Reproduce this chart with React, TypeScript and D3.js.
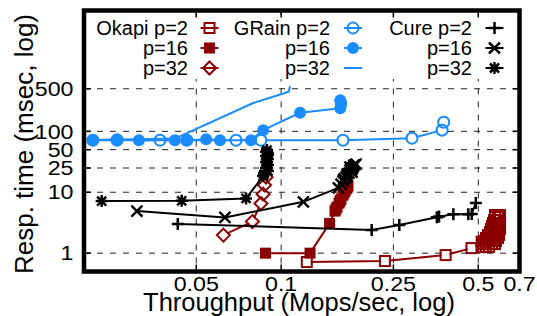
import React from 'react';
import * as d3 from 'd3';

type Pt = [number, number];

// ---- axis ticks ----
const xTickValues = [0.05, 0.1, 0.25, 0.5, 0.7];
const xTickLabels = ['0.05', '0.1', '0.25', '0.5', '0.7'];
const xGridValues = [0.05, 0.1, 0.25, 0.5];
const yTickValues = [1, 10, 25, 50, 100, 500];
const yTickLabels = ['1', '10', '25', '50', '100', '500'];

// ---- data: [throughput Mops/sec, response time msec] ----
const okapiP2: Pt[] = [
  [0.1233, 0.715], [0.2333, 0.742], [0.383, 0.93], [0.473, 1.21], [0.514, 1.54],
  [0.5196, 1.259], [0.5324, 1.259], [0.5457, 1.259],
  [0.5731, 1.411], [0.5592, 1.411], [0.5457, 1.411], [0.5324, 1.411], [0.5196, 1.411],
  [0.5238, 1.58], [0.5368, 1.58], [0.5502, 1.58], [0.5638, 1.58], [0.5779, 1.58],
  [0.5874, 1.769], [0.5731, 1.769], [0.5592, 1.769], [0.5457, 1.769], [0.5324, 1.769],
  [0.5412, 1.982], [0.5547, 1.982], [0.5684, 1.982], [0.5826, 1.982], [0.5922, 1.982],
  [0.5922, 2.221], [0.5779, 2.221], [0.5638, 2.221], [0.5502, 2.221],
  [0.5547, 2.487], [0.5684, 2.487], [0.5826, 2.487], [0.5971, 2.487],
  [0.5971, 2.786], [0.5874, 2.786], [0.5731, 2.786], [0.5592, 2.786],
  [0.5638, 3.12], [0.5779, 3.12], [0.5922, 3.12],
  [0.5971, 3.494], [0.5826, 3.494], [0.5684, 3.494],
  [0.5731, 3.914], [0.5874, 3.914], [0.5971, 3.914],
  [0.5971, 4.221], [0.5874, 4.221], [0.5731, 4.221],
];
const okapiP16: Pt[] = [
  [0.088, 1.0], [0.1266, 1.0], [0.1485, 3.08], [0.1552, 4.9], [0.1565, 5.3], [0.1578, 5.7],
  [0.1604, 6.63], [0.1617, 7.16], [0.163, 7.71], [0.1657, 8.97], [0.167, 9.7], [0.1684, 10.4],
  [0.1698, 11.3], [0.1712, 11.7], [0.1726, 12.6],
];
const okapiP32: Pt[] = [
  [0.0624, 1.98], [0.0791, 3.3], [0.0848, 6.55], [0.0863, 9.31], [0.0873, 13.1], [0.0884, 17.7],
];
const grainP2: Pt[] = [
  [0.0215, 71.5], [0.0262, 71.5], [0.0372, 71.5], [0.0463, 71.5], [0.0692, 71.5], [0.0848, 71.5],
  [0.1656, 71.5], [0.291, 77.1], [0.372, 104.6], [0.377, 141.5],
];
const grainP16: Pt[] = [
  [0.0215, 71.5], [0.0262, 74.2], [0.0313, 71.5], [0.042, 71.5], [0.0463, 71.5], [0.0542, 74.2],
  [0.0607, 71.5], [0.0782, 71.5], [0.0863, 104.6], [0.1167, 202], [0.162, 239], [0.163, 270],
  [0.163, 300], [0.162, 323],
];
const grainP32: Pt[] = [
  [0.0207, 71.5], [0.042, 76], [0.0796, 292], [0.1018, 417], [0.1065, 450], [0.1075, 550],
];
const cureP2: Pt[] = [
  [0.043, 3.02], [0.2094, 2.41], [0.2624, 2.91], [0.3565, 3.89], [0.363, 3.98], [0.408, 4.36],
  [0.461, 4.36], [0.474, 4.4], [0.49, 6.68],
];
const cureP16: Pt[] = [
  [0.0308, 4.9], [0.0632, 3.86], [0.1199, 6.96], [0.1595, 11.8], [0.163, 13.6], [0.1657, 15.3],
  [0.167, 16.5], [0.1698, 17.8], [0.1712, 19.9], [0.174, 20.6], [0.1754, 23.1], [0.1784, 24.0],
  [0.1798, 25.9], [0.1813, 27.9], [0.1843, 29.0], [0.1784, 21.4], [0.1712, 18.4], [0.1754, 25.9],
];
const cureP32: Pt[] = [
  [0.0231, 7.15], [0.0444, 7.23], [0.0751, 7.91], [0.0863, 18.4], [0.087, 19.9], [0.0898, 22.3],
  [0.0884, 24.9], [0.0898, 27.9], [0.0884, 31.3], [0.0898, 35.0], [0.0884, 39.3], [0.0898, 44.0],
  [0.0891, 49.3], [0.0884, 46], [0.0898, 41],
];

// ---- legend ----
const legendSystems = ['Okapi', 'GRain', 'Cure'];
const legendProcs = ['p=2', 'p=16', 'p=32'];

const RED = '#8b0000';
const BLUE = '#1a8cff';
const BLACK = '#000000';

type MarkerKind = 'sqOpen' | 'sqFill' | 'diaOpen' | 'circOpen' | 'circFill' | 'none' | 'plus' | 'cross' | 'star';

const series: { data: Pt[]; color: string; marker: MarkerKind; col: number; row: number }[] = [
  { data: okapiP2, color: RED, marker: 'sqOpen', col: 0, row: 0 },
  { data: okapiP16, color: RED, marker: 'sqFill', col: 0, row: 1 },
  { data: okapiP32, color: RED, marker: 'diaOpen', col: 0, row: 2 },
  { data: grainP2, color: BLUE, marker: 'circOpen', col: 1, row: 0 },
  { data: grainP16, color: BLUE, marker: 'circFill', col: 1, row: 1 },
  { data: grainP32, color: BLUE, marker: 'none', col: 1, row: 2 },
  { data: cureP2, color: BLACK, marker: 'plus', col: 2, row: 0 },
  { data: cureP16, color: BLACK, marker: 'cross', col: 2, row: 1 },
  { data: cureP32, color: BLACK, marker: 'star', col: 2, row: 2 },
];

const FONT = '"Liberation Sans", Arial, Helvetica, sans-serif';
const isOpen = (k: MarkerKind) => k === 'sqOpen' || k === 'diaOpen' || k === 'circOpen';

function Knockout({ kind, x, y }: { kind: MarkerKind; x: number; y: number }) {
  switch (kind) {
    case 'sqOpen':
      return <rect x={x - 4} y={y - 4} width={8} height={8} fill="#fff" />;
    case 'diaOpen':
      return <path d={`M${x},${y - 5}L${x + 5},${y}L${x},${y + 5}L${x - 5},${y}Z`} fill="#fff" />;
    case 'circOpen':
      return <circle cx={x} cy={y} r={4.5} fill="#fff" />;
    default:
      return null;
  }
}

function Marker({ kind, x, y, color }: { kind: MarkerKind; x: number; y: number; color: string }) {
  switch (kind) {
    case 'sqOpen':
      return <rect x={x - 5} y={y - 5} width={10} height={10} fill="none" stroke={color} strokeWidth={2} />;
    case 'sqFill':
      return <rect x={x - 5.5} y={y - 5.5} width={11} height={11} fill={color} />;
    case 'diaOpen':
      return <path d={`M${x},${y - 6.5}L${x + 6.5},${y}L${x},${y + 6.5}L${x - 6.5},${y}Z`} fill="none" stroke={color} strokeWidth={2} />;
    case 'circOpen':
      return <circle cx={x} cy={y} r={5.5} fill="none" stroke={color} strokeWidth={2} />;
    case 'circFill':
      return <circle cx={x} cy={y} r={6} fill={color} />;
    case 'plus':
      return <path d={`M${x - 6},${y}H${x + 6}M${x},${y - 6}V${y + 6}`} stroke={color} strokeWidth={2.5} fill="none" />;
    case 'cross':
      return <path d={`M${x - 5.5},${y - 5.5}L${x + 5.5},${y + 5.5}M${x - 5.5},${y + 5.5}L${x + 5.5},${y - 5.5}`} stroke={color} strokeWidth={2.5} fill="none" />;
    case 'star':
      return <path d={`M${x - 6},${y}H${x + 6}M${x},${y - 6}V${y + 6}M${x - 4.5},${y - 4.5}L${x + 4.5},${y + 4.5}M${x - 4.5},${y + 4.5}L${x + 4.5},${y - 4.5}`} stroke={color} strokeWidth={2.5} fill="none" />;
    default:
      return null;
  }
}

export default function App() {
  const W = 537, H = 316;
  const left = 84, right = 519.5, top = 10.5, bottom = 271.5;
  const x = d3.scaleLog().domain([0.02, 0.7]).range([left, right]);
  const y = d3.scaleLog().domain([0.5, 10000]).range([bottom, 9.5]);
  const line = d3.line<Pt>().x(d => x(d[0])).y(d => y(d[1]));

  const legTextX = [188, 330, 472];
  const legSymX = [209.5, 353, 494.5];
  const legRowY = [28, 48, 68];
  const TS = 1.16; // horizontal stretch of tick labels

  return (
    <svg width={W} height={H} style={{ position: 'absolute', left: 0, top: 0, background: '#fff' }} fontFamily={FONT}>
      <defs>
        <clipPath id="plotclip">
          <rect x={left} y={top} width={right - left} height={bottom - top} />
        </clipPath>
      </defs>
      <rect x={0} y={0} width={W} height={H} fill="#fff" />
      {/* grid */}
      <g stroke="#222" strokeWidth={1} strokeDasharray="6,7">
        {yTickValues.map(v => (
          <line key={'gy' + v} x1={left} x2={right} y1={y(v)} y2={y(v)} />
        ))}
        {xGridValues.map(v => (
          <line key={'gx' + v} x1={x(v)} x2={x(v)} y1={top} y2={bottom} />
        ))}
      </g>
      {/* legend background */}
      <rect x={88} y={15} width={427} height={64} fill="#fff" />
      {/* ticks */}
      <g stroke="#000" strokeWidth={1.5}>
        {yTickValues.map(v => (
          <g key={'ty' + v}>
            <line x1={left} x2={left + 7} y1={y(v)} y2={y(v)} />
            <line x1={right} x2={right - 7} y1={y(v)} y2={y(v)} />
          </g>
        ))}
        {xTickValues.map(v => (
          <g key={'tx' + v}>
            <line x1={x(v)} x2={x(v)} y1={bottom} y2={bottom - 7} />
            <line x1={x(v)} x2={x(v)} y1={top} y2={top + 7} />
          </g>
        ))}
      </g>
      {/* series */}
      <g clipPath="url(#plotclip)">
        {series.map((s, i) => (
          <g key={'s' + i}>
            <path d={line(s.data) || ''} fill="none" stroke={s.color} strokeWidth={2} strokeLinejoin="round" />
            {isOpen(s.marker) && s.data.map((d, j) => (
              <Knockout key={'k' + j} kind={s.marker} x={x(d[0])} y={y(d[1])} />
            ))}
            {s.data.map((d, j) => (
              <Marker key={j} kind={s.marker} x={x(d[0])} y={y(d[1])} color={s.color} />
            ))}
          </g>
        ))}
      </g>
      {/* legend */}
      <g fontSize={20} fill="#000">
        {series.map((s, i) => (
          <g key={'l' + i}>
            <text x={legTextX[s.col]} y={legRowY[s.row] + 7} textAnchor="end">
              {s.row === 0 ? `${legendSystems[s.col]} ${legendProcs[s.row]}` : legendProcs[s.row]}
            </text>
            <line x1={legSymX[s.col] - 9} x2={legSymX[s.col] + 9} y1={legRowY[s.row]} y2={legRowY[s.row]} stroke={s.color} strokeWidth={2} />
            <Marker kind={s.marker} x={legSymX[s.col]} y={legRowY[s.row]} color={s.color} />
          </g>
        ))}
      </g>
      {/* border */}
      <rect x={left} y={top} width={right - left} height={bottom - top} fill="none" stroke="#000" strokeWidth={4.5} />
      {/* tick labels */}
      <g fontSize={20} fill="#000">
        {yTickValues.map((v, i) => (
          <text key={'yl' + v} transform={`translate(73.5,${y(v) + 7.2}) scale(${TS},1)`} textAnchor="end">{yTickLabels[i]}</text>
        ))}
        {xTickValues.map((v, i) => (
          <text key={'xl' + v} transform={`translate(${x(v)},290.5) scale(${TS},1)`} textAnchor="middle">{xTickLabels[i]}</text>
        ))}
      </g>
      {/* axis titles */}
      <text x={299} y={310.5} fontSize={25.5} textAnchor="middle">Throughput (Mops/sec, log)</text>
      <text transform="translate(32.5,144) rotate(-90)" fontSize={26} textAnchor="middle">Resp. time (msec, log)</text>
    </svg>
  );
}
